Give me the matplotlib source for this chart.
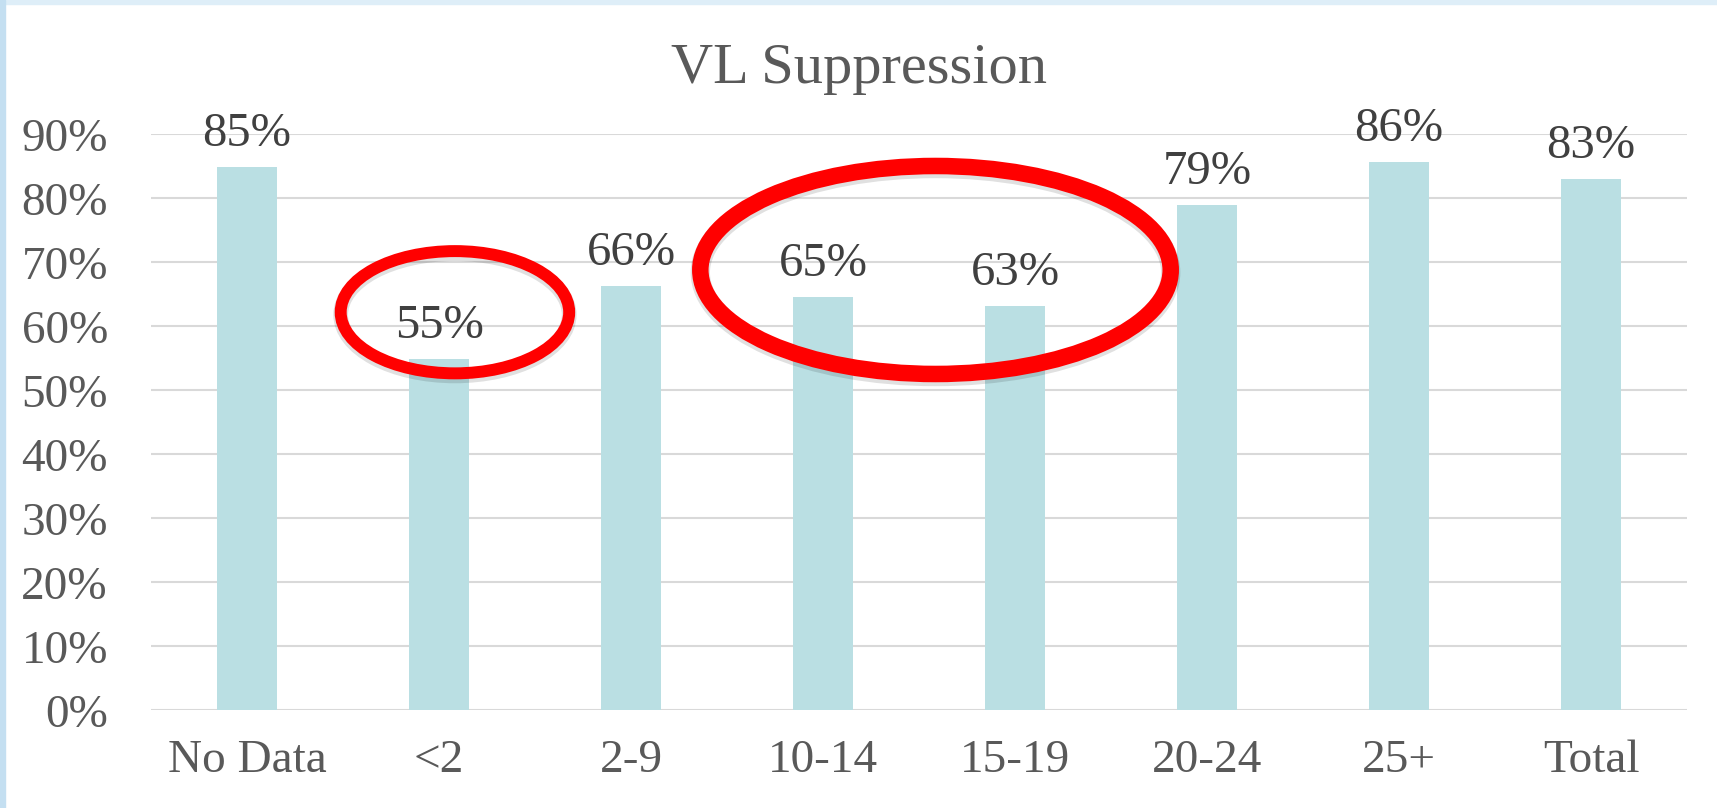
import matplotlib.pyplot as plt
from matplotlib.patches import Ellipse, Rectangle

# data
categories = ['No Data', '<2', '2-9', '10-14', '15-19', '20-24', '25+', 'Total']
suppression = [84.9, 54.9, 66.3, 64.6, 63.2, 79.0, 85.7, 83.0]
yticks = [0, 10, 20, 30, 40, 50, 60, 70, 80, 90]

# highlight rings (x in category units, y in percent)
rings = [
    dict(xy=(1.083, 62.2), width=1.19, height=19.1, lw=8.6),
    dict(xy=(3.586, 68.8), width=2.45, height=32.5, lw=11.9),
]

plt.rcParams['font.family'] = ['Liberation Serif', 'DejaVu Serif']

fig = plt.figure(figsize=(17.17, 8.08), dpi=100)
ax = fig.add_axes([151 / 1717, 1 - 710.3 / 808, 1536 / 1717, 576 / 808])

# slide frame
fig.patches.append(Rectangle((0, 1 - 4 / 808), 1, 4 / 808, transform=fig.transFigure,
                             color='#DEEEF8', zorder=0))
fig.patches.append(Rectangle((0, 0), 5 / 1717, 1, transform=fig.transFigure,
                             color='#C4DFF1', zorder=0))

x = range(len(categories))
bars = ax.bar(x, suppression, width=0.3125, color='#BADFE3', zorder=2)

for xi, v in zip(x, suppression):
    ax.annotate(f'{v:.0f}%', (xi, v), xytext=(0, 15), textcoords='offset points',
                ha='center', va='baseline', fontsize=35, color='#404040', zorder=4)

ax.set_xlim(-0.5, len(categories) - 0.5)
ax.set_ylim(0, 90)
ax.set_yticks(yticks)
ax.set_yticklabels([f'{t}%' for t in yticks])
ax.set_xticks(list(x))
ax.set_xticklabels(categories)
ax.tick_params(axis='both', length=0, labelsize=34, labelcolor='#595959')
ax.tick_params(axis='y', pad=31)
ax.tick_params(axis='x', pad=21)
ax.grid(axis='y', color='#D9D9D9', linewidth=1.5, zorder=1)
ax.set_axisbelow(True)
for s in ax.spines.values():
    s.set_visible(False)

for r in rings:
    shadow = Ellipse((r['xy'][0], r['xy'][1] - 0.4), r['width'], r['height'],
                     fill=False, edgecolor='black', alpha=0.12, linewidth=r['lw'] + 2,
                     clip_on=False, zorder=5)
    ax.add_patch(shadow)
    ax.add_patch(Ellipse(r['xy'], r['width'], r['height'], fill=False,
                         edgecolor='#FF0000', linewidth=r['lw'], clip_on=False, zorder=6))

fig.text(0.5, 1 - 83 / 808, 'VL Suppression', ha='center', va='baseline',
         fontsize=42, color='#595959')

fig.savefig('out.png', dpi=100)
